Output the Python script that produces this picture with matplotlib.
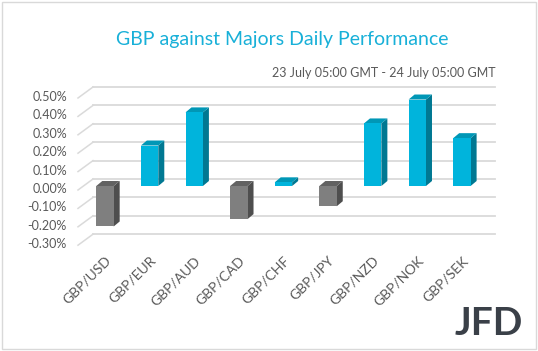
import matplotlib
matplotlib.use('Agg')
import matplotlib.pyplot as plt
from matplotlib.patches import Polygon, Rectangle
from matplotlib.transforms import IdentityTransform, ScaledTranslation

pairs = ['GBP/USD', 'GBP/EUR', 'GBP/AUD', 'GBP/CAD', 'GBP/CHF',
         'GBP/JPY', 'GBP/NZD', 'GBP/NOK', 'GBP/SEK']
change = [-0.22, 0.22, 0.40, -0.18, 0.02, -0.11, 0.34, 0.47, 0.26]
yticks = [-0.30, -0.20, -0.10, 0.00, 0.10, 0.20, 0.30, 0.40, 0.50]

title = 'GBP against Majors Daily Performance'
subtitle = '23 July 05:00 GMT - 24 July 05:00 GMT'

plt.rcParams['font.family'] = ['Lato', 'DejaVu Sans']

W, H, DPI = 538, 351, 100
fig = plt.figure(figsize=(W / DPI, H / DPI), dpi=DPI)

# bar plane of the 3d box, in pixels
left_px, right_px, top_px, bot_px = 84, 486, 94, 241.2
ax = fig.add_axes([left_px / W, 1 - bot_px / H,
                   (right_px - left_px) / W, (bot_px - top_px) / H])
ax.set_xlim(-0.47, 8.54)
ax.set_ylim(-0.30, 0.50)
ax.axis('off')

def shift(dx, dy):
    return ax.transData + ScaledTranslation(dx / DPI, dy / DPI, fig.dpi_scale_trans)

back = shift(9, 7)
front = shift(-6, -4)
grid_col = '#DADADA'

# back wall gridlines and the floor diagonals on the left
x0, x1 = ax.get_xlim()
for v in yticks:
    ax.plot([x0, x1], [v, v], color=grid_col, lw=1.3, transform=back, zorder=1, clip_on=False)
    p_front = front.transform((x0, v))
    p_back = back.transform((x0, v))
    ax.plot([p_front[0], p_back[0]], [p_front[1], p_back[1]], color=grid_col, lw=1.1,
            transform=IdentityTransform(), zorder=1, clip_on=False)
    ax.text(x0, v, f'{v:.2f}%', transform=shift(-17, -3), ha='right', va='center',
            fontsize=9, color='#595959')

# bars with side and top faces
bw = 0.39
dx, dy = 6, 5
fig.canvas.draw()
for i, v in enumerate(change):
    if v >= 0:
        cf, cs, ct = '#00B4DC', '#007892', '#0097B6'
    else:
        cf, cs, ct = '#7F7F7F', '#4E4E4E', '#626262'
    lo, hi = min(0, v), max(0, v)
    ax.bar(i, hi - lo, bottom=lo, width=bw, color=cf, zorder=3)
    xl, yl = ax.transData.transform((i - bw / 2, lo))
    xr, yh = ax.transData.transform((i + bw / 2, hi))
    side = [(xr, yl), (xr + dx, yl + dy), (xr + dx, yh + dy), (xr, yh)]
    top = [(xl, yh), (xr, yh), (xr + dx, yh + dy), (xl + dx, yh + dy)]
    ax.add_patch(Polygon(side, closed=True, facecolor=cs, edgecolor='none',
                         transform=IdentityTransform(), zorder=2, clip_on=False))
    ax.add_patch(Polygon(top, closed=True, facecolor=ct, edgecolor='none',
                         transform=IdentityTransform(), zorder=2, clip_on=False))
    ax.text(i, -0.30, pairs[i], transform=shift(0, -13), rotation=45,
            rotation_mode='anchor', ha='right', va='top', fontsize=10, color='#595959')

ax.set_xlim(x0, x1)
ax.set_ylim(-0.30, 0.50)

fig.text(282 / W, 1 - 40 / H, title, ha='center', va='center', fontsize=14, color='#18B0D8')
fig.text(495 / W, 1 - 73 / H, subtitle, ha='right', va='center', fontsize=9, color='#595959')

# JFD logo
fig.text(523 / W, 1 - 335 / H, 'JFD', ha='right', va='baseline', fontsize=28,
         fontweight='bold', color='#3A4048', family='Lato')

fig.add_artist(Rectangle((2 / W, 2 / H), 1 - 4 / W, 1 - 4 / H, transform=fig.transFigure,
                         fill=False, edgecolor='#D9D9D9', lw=1))

fig.savefig('out.png', dpi=DPI)
